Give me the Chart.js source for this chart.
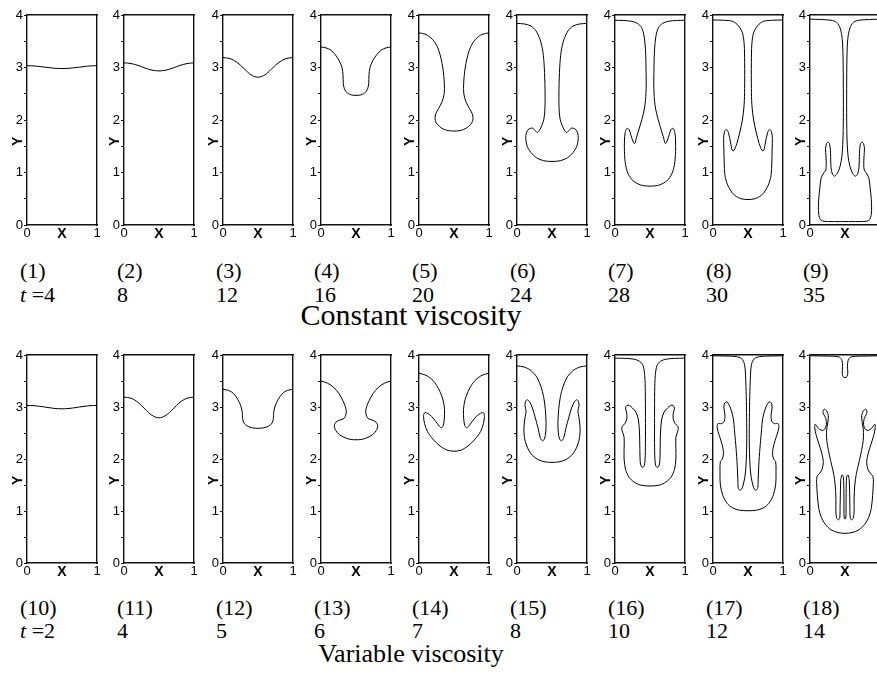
<!DOCTYPE html>
<html>
<head>
<meta charset="utf-8">
<script src="https://cdn.jsdelivr.net/npm/chart.js@4.4.1/dist/chart.umd.min.js"></script>
<style>
  body { margin: 0; background: #fff; }
  #fig { position: relative; width: 877px; height: 686px; overflow: hidden; background: #fff; }
  #fig canvas { position: absolute; }
  .lab { position: absolute; font-family: "Liberation Serif", "Times New Roman", serif; font-size: 22px; line-height: 22px; color: #000; white-space: nowrap; }
  .sub { position: absolute; font-family: "Liberation Serif", "Times New Roman", serif; color: #000; white-space: nowrap; transform: translateX(-50%); }
</style>
</head>
<body>
<div id="fig"></div>
<script>
// ---- panel captions and times ----
const panelTags = ['(1)','(2)','(3)','(4)','(5)','(6)','(7)','(8)','(9)',
                   '(10)','(11)','(12)','(13)','(14)','(15)','(16)','(17)','(18)'];
const timesConstant = [4, 8, 12, 16, 20, 24, 28, 30, 35];
const timesVariable = [2, 4, 5, 6, 7, 8, 10, 12, 14];
const rowTitles = ['Constant viscosity', 'Variable viscosity'];
const yTickValues = [0, 1, 2, 3, 4];
const xTickText = ['0', 'X', '1'];

// ---- interface contours, [x, y] pairs ----
const iface1 = [[0,3.035],[0.1,3.03],[0.2,3.015],[0.3,3.0],[0.4,2.985],[0.5,2.98],[0.6,2.985],[0.7,3.0],[0.8,3.015],[0.9,3.03],[1,3.035]];
const iface2 = [[0,3.09],[0.1,3.075],[0.2,3.04],[0.3,2.99],[0.4,2.95],[0.5,2.935],[0.6,2.95],[0.7,2.99],[0.8,3.04],[0.9,3.075],[1,3.09]];
const iface3 = [[0,3.19],[0.1,3.17],[0.2,3.10],[0.3,2.98],[0.4,2.86],[0.5,2.815],[0.6,2.86],[0.7,2.98],[0.8,3.10],[0.9,3.17],[1,3.19]];
const iface4 = [[0,3.39],[0.07,3.375],[0.14,3.33],[0.2,3.25],[0.26,3.13],[0.3,3.0],[0.315,2.85],[0.318,2.7],[0.335,2.59],[0.38,2.51],[0.44,2.475],[0.5,2.47],
  [0.56,2.475],[0.62,2.51],[0.665,2.59],[0.682,2.7],[0.685,2.85],[0.7,3.0],[0.74,3.13],[0.8,3.25],[0.86,3.33],[0.93,3.375],[1,3.39]];
const iface5 = [[0,3.66],[0.1,3.63],[0.19,3.54],[0.26,3.4],[0.31,3.2],[0.345,2.95],[0.362,2.7],[0.36,2.5],[0.33,2.35],[0.28,2.22],[0.24,2.12],[0.228,2.03],[0.245,1.95],[0.29,1.88],[0.36,1.82],[0.43,1.795],[0.5,1.79],
  [0.57,1.795],[0.64,1.82],[0.71,1.88],[0.755,1.95],[0.772,2.03],[0.76,2.12],[0.72,2.22],[0.67,2.35],[0.64,2.5],[0.638,2.7],[0.655,2.95],[0.69,3.2],[0.74,3.4],[0.81,3.54],[0.9,3.63],[1,3.66]];
const iface6 = [[0,3.84],[0.1,3.83],[0.2,3.79],[0.27,3.7],[0.33,3.53],[0.37,3.3],[0.39,3.0],[0.4,2.6],[0.4,2.25],[0.385,2.02],[0.355,1.9],[0.32,1.8],[0.29,1.76],[0.26,1.8],[0.22,1.845],[0.17,1.83],[0.135,1.76],[0.125,1.65],[0.145,1.5],[0.2,1.38],[0.28,1.28],[0.38,1.225],[0.5,1.21],
  [0.62,1.225],[0.72,1.28],[0.8,1.38],[0.855,1.5],[0.875,1.65],[0.865,1.76],[0.83,1.83],[0.78,1.845],[0.74,1.8],[0.71,1.76],[0.68,1.8],[0.645,1.9],[0.615,2.02],[0.6,2.25],[0.6,2.6],[0.61,3.0],[0.63,3.3],[0.67,3.53],[0.73,3.7],[0.8,3.79],[0.9,3.83],[1,3.84]];
const iface7 = [[0,3.9],[0.12,3.895],[0.24,3.88],[0.32,3.84],[0.38,3.76],[0.415,3.6],[0.435,3.35],[0.443,3.0],[0.445,2.6],[0.43,2.3],[0.405,2.12],[0.36,1.9],[0.31,1.68],[0.28,1.55],[0.255,1.6],[0.225,1.72],[0.2,1.82],[0.17,1.84],[0.145,1.76],[0.135,1.6],[0.135,1.4],[0.15,1.15],[0.19,0.97],[0.26,0.84],[0.36,0.765],[0.43,0.745],[0.5,0.74],
  [0.57,0.745],[0.64,0.765],[0.74,0.84],[0.81,0.97],[0.85,1.15],[0.865,1.4],[0.865,1.6],[0.855,1.76],[0.83,1.84],[0.8,1.82],[0.775,1.72],[0.745,1.6],[0.72,1.55],[0.69,1.68],[0.64,1.9],[0.595,2.12],[0.57,2.3],[0.555,2.6],[0.557,3.0],[0.565,3.35],[0.585,3.6],[0.62,3.76],[0.68,3.84],[0.76,3.88],[0.88,3.895],[1,3.9]];
const iface8 = [[0,3.905],[0.15,3.9],[0.28,3.88],[0.36,3.8],[0.42,3.66],[0.445,3.45],[0.452,3.1],[0.452,2.6],[0.445,2.3],[0.42,2.0],[0.38,1.75],[0.34,1.55],[0.3,1.42],[0.275,1.42],[0.25,1.58],[0.22,1.76],[0.19,1.82],[0.163,1.77],[0.152,1.65],[0.155,1.45],[0.16,1.2],[0.17,0.95],[0.21,0.76],[0.29,0.59],[0.39,0.505],[0.5,0.485],
  [0.61,0.505],[0.71,0.59],[0.79,0.76],[0.83,0.95],[0.84,1.2],[0.845,1.45],[0.848,1.65],[0.837,1.77],[0.81,1.82],[0.78,1.76],[0.75,1.58],[0.725,1.42],[0.7,1.42],[0.66,1.55],[0.62,1.75],[0.58,2.0],[0.555,2.3],[0.548,2.6],[0.548,3.1],[0.555,3.45],[0.58,3.66],[0.64,3.8],[0.72,3.88],[0.85,3.9],[1,3.905]];
const iface9 = [[0,3.92],[0.15,3.915],[0.3,3.9],[0.38,3.86],[0.43,3.75],[0.46,3.55],[0.472,3.2],[0.476,2.6],[0.476,2.0],[0.47,1.6],[0.455,1.3],[0.43,1.12],[0.39,0.98],[0.35,0.93],[0.32,0.97],[0.3,1.1],[0.295,1.3],[0.292,1.42],[0.28,1.54],[0.26,1.58],[0.235,1.55],[0.222,1.45],[0.228,1.32],[0.232,1.15],[0.225,1.05],[0.2,1.0],[0.16,0.9],[0.14,0.7],[0.125,0.5],[0.12,0.35],[0.125,0.2],[0.15,0.1],[0.2,0.07],[0.3,0.065],[0.4,0.065],[0.5,0.065],
  [0.6,0.065],[0.7,0.065],[0.8,0.07],[0.85,0.1],[0.875,0.2],[0.88,0.35],[0.875,0.5],[0.86,0.7],[0.84,0.9],[0.8,1.0],[0.775,1.05],[0.768,1.15],[0.772,1.32],[0.778,1.45],[0.765,1.55],[0.74,1.58],[0.72,1.54],[0.708,1.42],[0.705,1.3],[0.7,1.1],[0.68,0.97],[0.65,0.93],[0.61,0.98],[0.57,1.12],[0.545,1.3],[0.53,1.6],[0.524,2.0],[0.524,2.6],[0.528,3.2],[0.54,3.55],[0.57,3.75],[0.62,3.86],[0.7,3.9],[0.85,3.915],[1,3.92]];
const iface10 = [[0,3.03],[0.1,3.025],[0.2,3.01],[0.3,2.99],[0.4,2.972],[0.5,2.965],[0.6,2.972],[0.7,2.99],[0.8,3.01],[0.9,3.025],[1,3.03]];
const iface11 = [[0,3.19],[0.1,3.17],[0.2,3.09],[0.3,2.96],[0.4,2.84],[0.5,2.79],[0.6,2.84],[0.7,2.96],[0.8,3.09],[0.9,3.17],[1,3.19]];
const iface12 = [[0,3.34],[0.08,3.32],[0.15,3.26],[0.21,3.15],[0.255,3.02],[0.275,2.9],[0.28,2.78],[0.3,2.69],[0.35,2.63],[0.42,2.6],[0.5,2.59],
  [0.58,2.6],[0.65,2.63],[0.7,2.69],[0.72,2.78],[0.725,2.9],[0.745,3.02],[0.79,3.15],[0.85,3.26],[0.92,3.32],[1,3.34]];
const iface13 = [[0,3.5],[0.09,3.46],[0.18,3.38],[0.26,3.25],[0.32,3.1],[0.36,2.95],[0.355,2.85],[0.33,2.78],[0.27,2.75],[0.215,2.71],[0.19,2.64],[0.21,2.55],[0.27,2.46],[0.36,2.4],[0.43,2.375],[0.5,2.37],
  [0.57,2.375],[0.64,2.4],[0.73,2.46],[0.79,2.55],[0.81,2.64],[0.785,2.71],[0.73,2.75],[0.67,2.78],[0.645,2.85],[0.64,2.95],[0.68,3.1],[0.74,3.25],[0.82,3.38],[0.91,3.46],[1,3.5]];
const iface14 = [[0,3.65],[0.1,3.61],[0.2,3.51],[0.28,3.35],[0.34,3.15],[0.365,2.95],[0.36,2.75],[0.345,2.64],[0.32,2.6],[0.29,2.63],[0.24,2.72],[0.18,2.82],[0.12,2.88],[0.08,2.89],[0.065,2.82],[0.08,2.68],[0.12,2.53],[0.2,2.38],[0.3,2.25],[0.4,2.17],[0.5,2.15],
  [0.6,2.17],[0.7,2.25],[0.8,2.38],[0.88,2.53],[0.92,2.68],[0.935,2.82],[0.92,2.89],[0.88,2.88],[0.82,2.82],[0.76,2.72],[0.71,2.63],[0.68,2.6],[0.655,2.64],[0.64,2.75],[0.635,2.95],[0.66,3.15],[0.72,3.35],[0.8,3.51],[0.9,3.61],[1,3.65]];
const iface15 = [[0,3.79],[0.1,3.77],[0.2,3.7],[0.28,3.58],[0.34,3.4],[0.38,3.2],[0.405,2.95],[0.415,2.7],[0.41,2.5],[0.39,2.38],[0.36,2.35],[0.33,2.42],[0.3,2.6],[0.26,2.8],[0.22,2.98],[0.18,3.1],[0.145,3.14],[0.12,3.1],[0.115,3.02],[0.13,2.92],[0.115,2.8],[0.1,2.62],[0.105,2.42],[0.14,2.25],[0.2,2.1],[0.3,1.99],[0.4,1.945],[0.5,1.935],
  [0.6,1.945],[0.7,1.99],[0.8,2.1],[0.86,2.25],[0.895,2.42],[0.9,2.62],[0.885,2.8],[0.87,2.92],[0.885,3.02],[0.88,3.1],[0.855,3.14],[0.82,3.1],[0.78,2.98],[0.74,2.8],[0.7,2.6],[0.67,2.42],[0.64,2.35],[0.61,2.38],[0.59,2.5],[0.585,2.7],[0.595,2.95],[0.62,3.2],[0.66,3.4],[0.72,3.58],[0.8,3.7],[0.9,3.77],[1,3.79]];
const iface16 = [[0,3.94],[0.15,3.935],[0.27,3.92],[0.35,3.88],[0.4,3.8],[0.425,3.6],[0.433,3.3],[0.435,2.8],[0.435,2.3],[0.43,2.0],[0.42,1.88],[0.4,1.84],[0.375,1.86],[0.36,1.95],[0.355,2.2],[0.35,2.5],[0.335,2.75],[0.3,2.9],[0.25,2.98],[0.205,3.03],[0.17,3.03],[0.15,2.98],[0.165,2.9],[0.17,2.78],[0.14,2.68],[0.1,2.62],[0.1,2.55],[0.13,2.42],[0.13,2.2],[0.13,2.0],[0.15,1.8],[0.2,1.65],[0.27,1.56],[0.36,1.5],[0.5,1.48],
  [0.64,1.5],[0.73,1.56],[0.8,1.65],[0.85,1.8],[0.87,2.0],[0.87,2.2],[0.87,2.42],[0.9,2.55],[0.9,2.62],[0.86,2.68],[0.83,2.78],[0.835,2.9],[0.85,2.98],[0.83,3.03],[0.795,3.03],[0.75,2.98],[0.7,2.9],[0.665,2.75],[0.65,2.5],[0.645,2.2],[0.64,1.95],[0.625,1.86],[0.6,1.84],[0.58,1.88],[0.57,2.0],[0.565,2.3],[0.565,2.8],[0.567,3.3],[0.575,3.6],[0.6,3.8],[0.65,3.88],[0.73,3.92],[0.85,3.935],[1,3.94]];
const iface17 = [[0,3.985],[0.2,3.98],[0.33,3.97],[0.41,3.93],[0.45,3.82],[0.465,3.6],[0.475,3.2],[0.48,2.8],[0.482,2.4],[0.478,2.1],[0.47,1.85],[0.455,1.65],[0.43,1.5],[0.41,1.42],[0.385,1.4],[0.36,1.45],[0.355,1.6],[0.345,1.9],[0.33,2.2],[0.31,2.5],[0.29,2.78],[0.25,2.98],[0.2,3.1],[0.17,3.08],[0.155,3.0],[0.17,2.85],[0.16,2.72],[0.12,2.68],[0.07,2.68],[0.06,2.6],[0.09,2.45],[0.13,2.28],[0.15,2.12],[0.135,2.0],[0.105,1.95],[0.1,1.7],[0.105,1.5],[0.14,1.3],[0.2,1.15],[0.28,1.06],[0.38,1.015],[0.5,1.005],
  [0.62,1.015],[0.72,1.06],[0.8,1.15],[0.86,1.3],[0.895,1.5],[0.9,1.7],[0.895,1.95],[0.865,2.0],[0.85,2.12],[0.87,2.28],[0.91,2.45],[0.94,2.6],[0.93,2.68],[0.88,2.68],[0.84,2.72],[0.83,2.85],[0.845,3.0],[0.83,3.08],[0.8,3.1],[0.75,2.98],[0.71,2.78],[0.69,2.5],[0.67,2.2],[0.655,1.9],[0.645,1.6],[0.64,1.45],[0.615,1.4],[0.59,1.42],[0.57,1.5],[0.545,1.65],[0.53,1.85],[0.522,2.1],[0.518,2.4],[0.52,2.8],[0.525,3.2],[0.535,3.6],[0.55,3.82],[0.59,3.93],[0.67,3.97],[0.8,3.98],[1,3.985]];
// t = 14: the upper layer with its small pinched drop, and the detached lower body
const iface18top = [[0,3.985],[0.2,3.98],[0.35,3.975],[0.42,3.96],[0.455,3.9],[0.465,3.78],[0.46,3.67],[0.47,3.59],[0.5,3.565],[0.53,3.59],[0.54,3.67],[0.535,3.78],[0.545,3.9],[0.58,3.96],[0.65,3.975],[0.8,3.98],[1,3.985]];
const iface18 = [[0.5,0.57],[0.4,0.585],[0.3,0.64],[0.22,0.74],[0.16,0.88],[0.125,1.05],[0.105,1.3],[0.095,1.55],[0.1,1.66],[0.14,1.73],[0.175,1.81],[0.19,1.95],[0.17,2.1],[0.13,2.28],[0.09,2.45],[0.068,2.6],[0.075,2.67],[0.12,2.59],[0.17,2.55],[0.21,2.57],[0.235,2.66],[0.225,2.78],[0.195,2.86],[0.185,2.92],[0.205,2.96],[0.24,2.92],[0.262,2.83],[0.255,2.71],[0.24,2.58],[0.235,2.44],[0.25,2.26],[0.28,2.06],[0.31,1.88],[0.34,1.7],[0.36,1.5],[0.37,1.25],[0.37,1.0],[0.38,0.87],[0.405,0.83],[0.425,0.87],[0.43,1.1],[0.435,1.4],[0.44,1.6],[0.455,1.69],[0.475,1.67],[0.482,1.5],[0.485,1.2],[0.485,0.95],[0.49,0.86],[0.5,0.845],
  [0.51,0.86],[0.515,0.95],[0.515,1.2],[0.518,1.5],[0.525,1.67],[0.545,1.69],[0.56,1.6],[0.565,1.4],[0.57,1.1],[0.575,0.87],[0.595,0.83],[0.62,0.87],[0.63,1.0],[0.63,1.25],[0.64,1.5],[0.66,1.7],[0.69,1.88],[0.72,2.06],[0.75,2.26],[0.765,2.44],[0.76,2.58],[0.745,2.71],[0.738,2.83],[0.76,2.92],[0.795,2.96],[0.815,2.92],[0.805,2.86],[0.775,2.78],[0.765,2.66],[0.79,2.57],[0.83,2.55],[0.88,2.59],[0.925,2.67],[0.932,2.6],[0.91,2.45],[0.87,2.28],[0.83,2.1],[0.81,1.95],[0.825,1.81],[0.86,1.73],[0.9,1.66],[0.905,1.55],[0.895,1.3],[0.875,1.05],[0.84,0.88],[0.78,0.74],[0.7,0.64],[0.6,0.585],[0.5,0.57]];

const panelSeries = [
  [iface1],[iface2],[iface3],[iface4],[iface5],[iface6],[iface7],[iface8],[iface9],
  [iface10],[iface11],[iface12],[iface13],[iface14],[iface15],[iface16],[iface17],[iface18top, iface18]
];

// ---- layout ----
const PLOT_LEFT = [27, 124, 223, 321, 419, 517, 615, 713, 810];
const ROW_TOP = [0, 340];
const ROW_H = [247, 245];
const Y_AXIS_W = 27, RIGHT_W = 6, PLOT_W = 70, X_AXIS_H = 22;
const TICK_FONT = { family: 'Liberation Sans, Arial, sans-serif', size: 13 };
const BOLD_FONT = { family: 'Liberation Sans, Arial, sans-serif', size: 14, weight: 'bold' };
const FRAME = '#111';

const fig = document.getElementById('fig');

function addPanel(i) {
  const row = i < 9 ? 0 : 1, col = i % 9;
  const W = Y_AXIS_W + PLOT_W + RIGHT_W, H = ROW_H[row];
  const cv = document.createElement('canvas');
  cv.width = W; cv.height = H;
  cv.style.width = W + 'px'; cv.style.height = H + 'px';
  cv.style.left = (PLOT_LEFT[col] - Y_AXIS_W) + 'px';
  cv.style.top = ROW_TOP[row] + 'px';
  fig.appendChild(cv);

  new Chart(cv, {
    type: 'scatter',
    data: {
      datasets: panelSeries[i].map(pts => ({
        data: pts.map(([x, y]) => ({ x, y })),
        showLine: true, borderColor: '#000', borderWidth: 1,
        pointRadius: 0, tension: 0.3, fill: false
      }))
    },
    options: {
      responsive: false, animation: false, devicePixelRatio: 1,
      layout: { padding: { top: 15, left: 0, right: 0, bottom: 0 } },
      plugins: { legend: { display: false }, tooltip: { enabled: false } },
      scales: {
        x: {
          type: 'linear', position: 'bottom', min: 0, max: 1,
          grid: { display: false, drawTicks: false },
          border: { display: true, color: FRAME, width: 1.4 },
          ticks: {
            stepSize: 0.5, autoSkip: false, maxRotation: 0, padding: 1, color: '#000',
            callback: v => xTickText[Math.round(v * 2)],
            font: ctx => (ctx.tick && ctx.tick.value === 0.5) ? BOLD_FONT : TICK_FONT
          },
          afterFit: s => { s.height = X_AXIS_H; }
        },
        y: {
          type: 'linear', position: 'left', min: 0, max: 4,
          grid: { drawOnChartArea: false, drawTicks: true, tickLength: 3, color: FRAME, lineWidth: 1 },
          border: { display: true, color: FRAME, width: 1.4 },
          ticks: {
            stepSize: 0.5, autoSkip: false, padding: 1, color: '#000', font: TICK_FONT,
            callback: v => yTickValues.includes(v) ? String(v) : ''
          },
          title: { display: true, text: 'Y' + ' '.repeat(11), color: '#000', font: BOLD_FONT, padding: { top: 10, bottom: 0 } },
          afterFit: s => { s.width = Y_AXIS_W; }
        },
        x2: {
          type: 'linear', position: 'top', min: 0, max: 1,
          grid: { display: false, drawTicks: false }, ticks: { display: false },
          border: { display: true, color: FRAME, width: 1.4 },
          afterFit: s => { s.height = 0; }
        },
        y2: {
          type: 'linear', position: 'right', min: 0, max: 4,
          grid: { display: false, drawTicks: false }, ticks: { display: false },
          border: { display: true, color: FRAME, width: 1.4 },
          afterFit: s => { s.width = RIGHT_W; }
        }
      }
    }
  });
}

for (let i = 0; i < 18; i++) addPanel(i);

// ---- captions under each row ----
const TAG_TOP = [260, 597], TIME_TOP = [284, 620], TITLE_TOP = [300, 641], TITLE_SIZE = [30, 26];
function addText(cls, html, left, top, size) {
  const d = document.createElement('div');
  d.className = cls; d.innerHTML = html;
  d.style.left = left + 'px'; d.style.top = top + 'px';
  if (size) { d.style.fontSize = size + 'px'; d.style.lineHeight = size + 'px'; }
  fig.appendChild(d);
}
for (let r = 0; r < 2; r++) {
  const times = r === 0 ? timesConstant : timesVariable;
  for (let c = 0; c < 9; c++) {
    const lx = PLOT_LEFT[c] - 7;
    addText('lab', panelTags[r * 9 + c], lx, TAG_TOP[r]);
    addText('lab', c === 0 ? '<i>t</i> =' + times[c] : String(times[c]), lx, TIME_TOP[r]);
  }
  addText('sub', rowTitles[r], 411, TITLE_TOP[r], TITLE_SIZE[r]);
}
</script>
</body>
</html>
